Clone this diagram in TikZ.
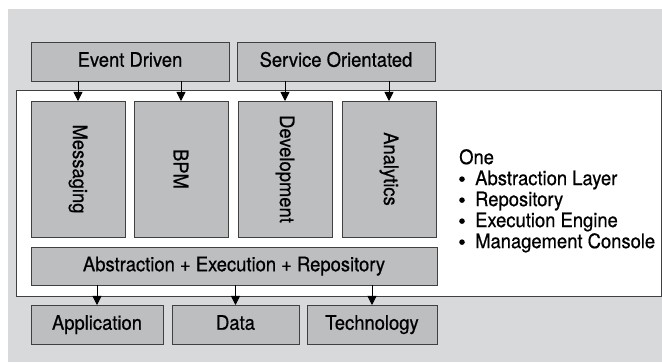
\documentclass[tikz,border=0pt]{standalone}
\usepackage{fontspec}
\setmainfont{TeX Gyre Heros}[FakeStretch=0.92, FakeBold=0.6]
\usetikzlibrary{arrows.meta}
\definecolor{bggray}{RGB}{216,217,219}
\definecolor{boxgray}{RGB}{189,190,192}
\definecolor{edgegray}{RGB}{64,64,66}
\newcommand{\bul}{\makebox[16pt][l]{\tikz[baseline=-6pt]\fill (3pt,0) circle (2.8pt);}}
\tikzset{
	box/.style={draw=edgegray, fill=boxgray, line width=0.8pt, inner sep=0pt, outer sep=0pt, font=\fontsize{20}{21}\selectfont},
	hbox/.style={box, text height=14.5pt, text depth=4pt},
	arr/.style={line width=0.8pt, -{Triangle[width=9pt,length=9pt]}}
}

\begin{document}
\begin{tikzpicture}[x=1pt, y=-1pt]
			%%%%% START %%%%%
			
			\useasboundingbox (0, 0) rectangle (662, 363);
			\fill[bggray] (8, 9) rectangle (662, 362);
			\draw[fill=white, draw=edgegray, line width=0.8pt] (16, 90) rectangle (661, 296);
			
			\node[hbox, minimum width=198pt, minimum height=39pt] (event) at (130, 61.5) {Event Driven};
			\node[hbox, minimum width=198pt, minimum height=39pt] (service) at (336, 61.5) {Service Orientated};
			
			\node[box, minimum width=94pt, minimum height=136pt] (msg) at (78, 169) {\rotatebox{-90}{Messaging}};
			\node[box, minimum width=94pt, minimum height=136pt] (bpm) at (181, 169) {\rotatebox{-90}{BPM}};
			\node[box, minimum width=94pt, minimum height=136pt] (dev) at (285, 169) {\rotatebox{-90}{Development}};
			\node[box, minimum width=94pt, minimum height=136pt] (ana) at (389, 169) {\rotatebox{-90}{Analytics}};
			
			\node[hbox, minimum width=406pt, minimum height=38pt] (aer) at (234, 266) {Abstraction + Execution + Repository};
			
			\node[hbox, minimum width=132pt, minimum height=39pt] (app) at (97, 324.5) {Application};
			\node[hbox, minimum width=127pt, minimum height=39pt] (data) at (235.5, 324.5) {Data};
			\node[hbox, minimum width=130pt, minimum height=39pt] (tech) at (372, 324.5) {Technology};
			
			\node[anchor=north west, inner sep=0pt, align=left, font=\fontsize{20}{21}\selectfont] (one) at (459, 149)
				{One\\
				\bul Abstraction Layer\\
				\bul Repository\\
				\bul Execution Engine\\
				\bul Management Console};
			
			\draw[arr] (msg.north |- event.south) -- (msg.north);
			\draw[arr] (bpm.north |- event.south) -- (bpm.north);
			\draw[arr] (dev.north |- service.south) -- (dev.north);
			\draw[arr] (ana.north |- service.south) -- (ana.north);
			
			\draw[arr] (app.north |- aer.south) -- (app.north);
			\draw[arr] (data.north |- aer.south) -- (data.north);
			\draw[arr] (tech.north |- aer.south) -- (tech.north);
			
			%%%%% END %%%%%
\end{tikzpicture}
\end{document}
